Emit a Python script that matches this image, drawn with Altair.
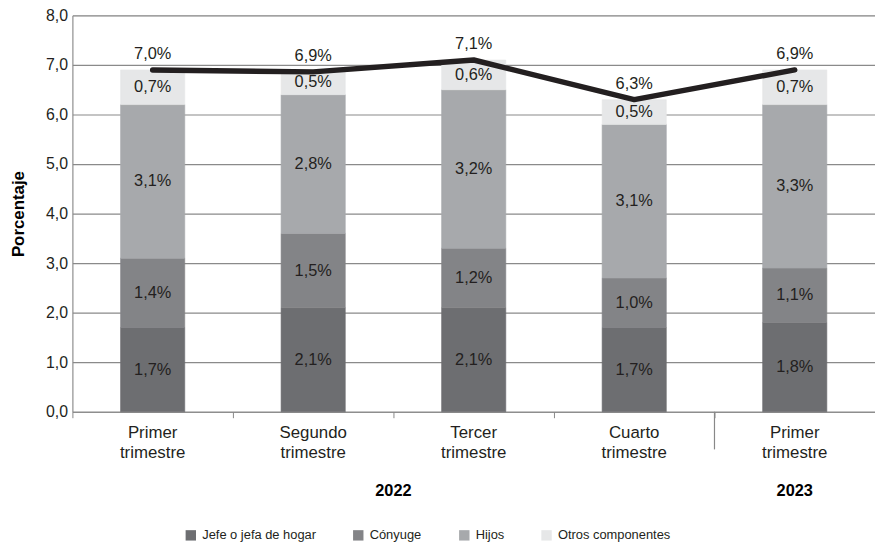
import altair as alt
import pandas as pd

# ---- data ----
cat_keys = ["T1-2022", "T2-2022", "T3-2022", "T4-2022", "T1-2023"]
cat_labels = ["Primer trimestre", "Segundo trimestre", "Tercer trimestre", "Cuarto trimestre", "Primer trimestre"]
years = ["2022", "2023"]

series = ["Jefe o jefa de hogar", "Cónyuge", "Hijos", "Otros componentes"]
jefe = [1.7, 2.1, 2.1, 1.7, 1.8]
conyuge = [1.4, 1.5, 1.2, 1.0, 1.1]
hijos = [3.1, 2.8, 3.2, 3.1, 3.3]
otros = [0.7, 0.5, 0.6, 0.5, 0.7]

total_line = [6.9, 6.86, 7.1, 6.3, 6.9]
total_label = [7.0, 6.9, 7.1, 6.3, 6.9]

colors = ["#6d6e71", "#838487", "#a7a9ac", "#e6e7e8"]

FONT = "Liberation Sans"
TXT = "#231f20"

rows = []
for i, k in enumerate(cat_keys):
    for j, (s, vals) in enumerate(zip(series, [jefe, conyuge, hijos, otros])):
        rows.append({"cat": k, "serie": s, "idx": j, "val": vals[i]})
df = pd.DataFrame(rows)
df_tot = pd.DataFrame({"cat": cat_keys, "tot": total_line, "lab": total_label})

label_map = "{" + ",".join(f"'{k}': '{l}'" for k, l in zip(cat_keys, cat_labels)) + "}"

x_enc = alt.X(
    "cat:N",
    sort=cat_keys,
    scale=alt.Scale(domain=cat_keys, paddingInner=0, paddingOuter=0),
    axis=alt.Axis(
        title=None,
        labelExpr=f"split({label_map}[datum.value], ' ')",
        labelAngle=0,
        labelFont=FONT,
        labelFontSize=17,
        labelColor=TXT,
        labelBaseline="top",
        labelPadding=7,
        labelLineHeight=20,
        bandPosition=0,
        ticks=True,
        tickSize=6,
        tickColor="#888888",
        domainColor="#888888",
        grid=False,
    ),
)

y_scale = alt.Scale(domain=[0, 8], nice=False)

base = alt.Chart(df).transform_stack(
    stack="val", groupby=["cat"], as_=["v0", "v1"], sort=[alt.SortField("idx", order="ascending")]
).transform_calculate(
    mid="(datum.v0 + datum.v1) / 2",
    txt="replace(format(datum.val, '.1f'), '.', ',') + '%'",
)

color_scale = alt.Scale(domain=series, range=colors)

bars = base.mark_bar(width=alt.RelativeBandSize(0.4), strokeWidth=0.6).encode(
    x=x_enc,
    y=alt.Y(
        "v0:Q",
        scale=y_scale,
        axis=alt.Axis(
            title="Porcentaje",
            titleFont=FONT,
            titleFontSize=17,
            titleFontWeight="bold",
            titleColor="#000000",
            titlePadding=18,
            values=[0, 1, 2, 3, 4, 5, 6, 7, 8],
            labelExpr="replace(format(datum.value, '.1f'), '.', ',')",
            labelFont=FONT,
            labelFontSize=16,
            labelColor=TXT,
            labelPadding=5,
            ticks=False,
            domainColor="#888888",
            gridColor="#8a8a8a",
            gridWidth=1.2,
        ),
    ),
    y2="v1:Q",
    color=alt.Color(
        "serie:N",
        sort=series,
        scale=color_scale,
        legend=alt.Legend(
            title=None,
            orient="none",
            direction="horizontal",
            legendX=113,
            legendY=518,
            symbolType="square",
            symbolSize=110,
            symbolStrokeWidth=0,
            labelFont=FONT,
            labelFontSize=13,
            labelColor=TXT,
            labelOffset=5,
            columnPadding=36,
        ),
    ),
    stroke=alt.Stroke("serie:N", sort=series, scale=color_scale, legend=None),
)

seg_text = base.mark_text(font=FONT, fontSize=16.5, color=TXT, baseline="middle").encode(
    x=alt.X("cat:N", sort=cat_keys),
    y=alt.Y("mid:Q", scale=y_scale),
    text="txt:N",
)

line = alt.Chart(df_tot).mark_line(strokeWidth=5.5, color=TXT, strokeCap="round", strokeJoin="round").encode(
    x=alt.X("cat:N", sort=cat_keys),
    y=alt.Y("tot:Q", scale=y_scale),
)

tot_text = alt.Chart(df_tot).transform_calculate(
    t="replace(format(datum.lab, '.1f'), '.', ',') + '%'"
).mark_text(font=FONT, fontSize=16.5, color=TXT, baseline="middle", dy=-16).encode(
    x=alt.X("cat:N", sort=cat_keys),
    y=alt.Y("tot:Q", scale=y_scale),
    text="t:N",
)

sep = alt.Chart(pd.DataFrame({"cat": [cat_keys[4]]})).mark_rule(color="#888888", strokeWidth=1.2).encode(
    x=alt.X("cat:N", sort=cat_keys, bandPosition=0),
    y=alt.value(400),
    y2=alt.value(438),
)

yr22 = alt.Chart(pd.DataFrame({"cat": [cat_keys[2]], "y": [years[0]]})).mark_text(
    font=FONT, fontSize=16.5, fontWeight="bold", color="#000000", baseline="middle"
).encode(
    x=alt.X("cat:N", sort=cat_keys, bandPosition=0),
    y=alt.value(480),
    text="y:N",
)
yr23 = alt.Chart(pd.DataFrame({"cat": [cat_keys[4]], "y": [years[1]]})).mark_text(
    font=FONT, fontSize=16.5, fontWeight="bold", color="#000000", baseline="middle"
).encode(
    x=alt.X("cat:N", sort=cat_keys, bandPosition=0.5),
    y=alt.value(480),
    text="y:N",
)

chart = alt.layer(bars, seg_text, line, tot_text, sep, yr22, yr23).properties(
    width=810,
    height=400,
    autosize=alt.AutoSizeParams(type="none"),
    padding={"left": 65, "top": 5, "right": 0, "bottom": 132},
).configure_view(stroke=None).configure(background="white")

chart.save("out.html", embed_options={"renderer": "svg", "actions": False})
